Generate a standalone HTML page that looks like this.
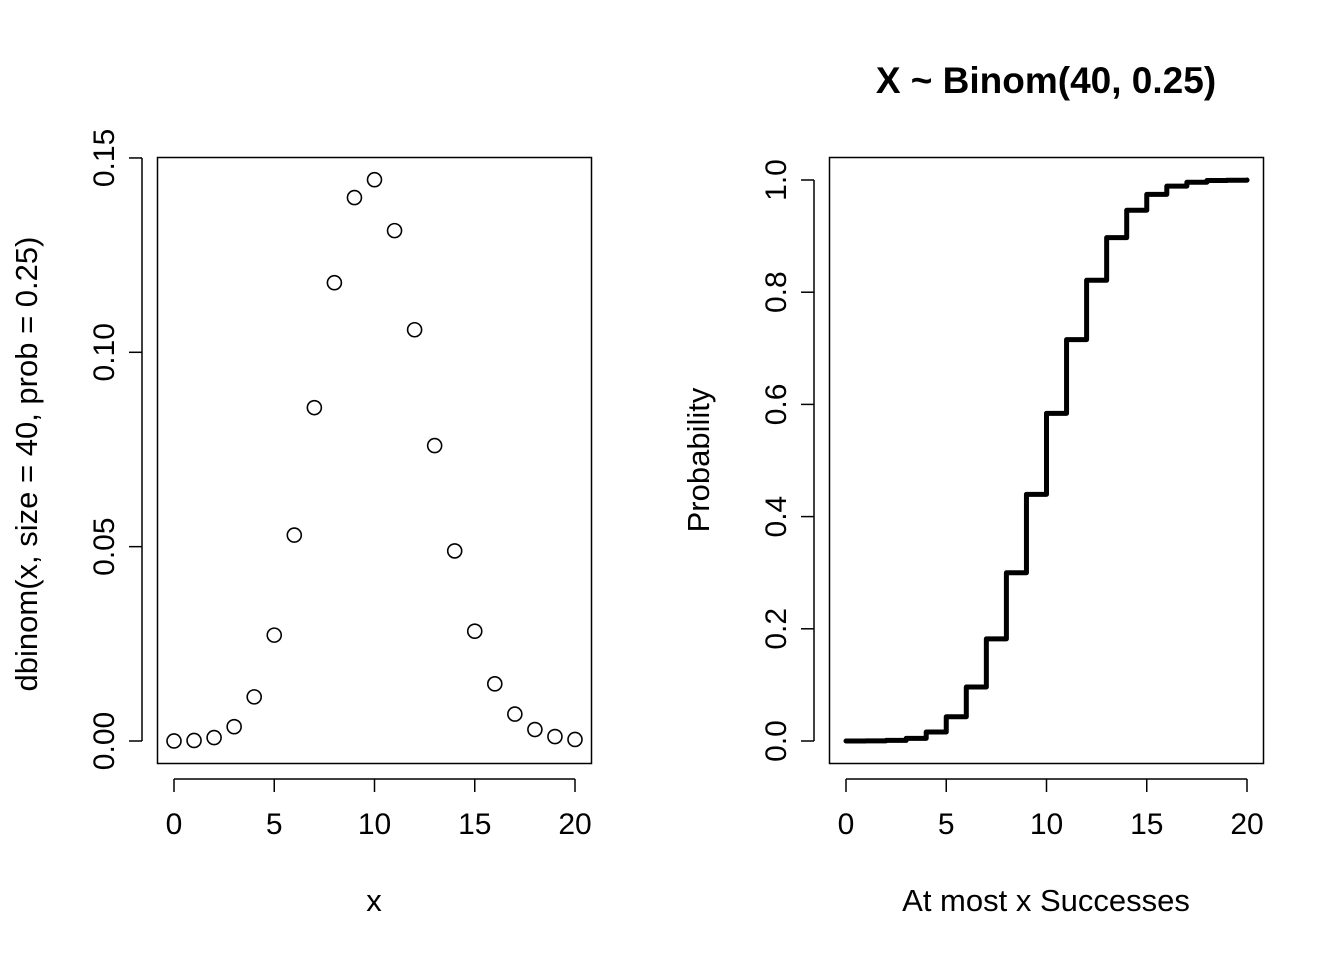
<!DOCTYPE html>
<html><head><meta charset="utf-8"><style>
html,body{margin:0;padding:0;background:#fff;}
svg{display:block;font-family:"Liberation Sans",Arial,sans-serif;}
</style></head><body>
<svg id="s" width="1344" height="960" viewBox="0 0 1344 960">
<rect width="1344" height="960" fill="#fff"/>
<text x="1046" y="93" font-size="37" font-weight="bold" text-anchor="middle">X ~ Binom(40, 0.25)</text>
<rect x="157.5" y="157.5" width="434" height="606" fill="none" stroke="#000" stroke-width="1.5"/>
<rect x="829.5" y="157.5" width="434" height="606" fill="none" stroke="#000" stroke-width="1.5"/>
<text x="374" y="911" font-size="31" text-anchor="middle">x</text>
<text x="1046" y="911" font-size="31" text-anchor="middle">At most x Successes</text>
<text transform="translate(37,464) rotate(-90)" font-size="31" text-anchor="middle">dbinom(x, size = 40, prob = 0.25)</text>
<text transform="translate(709,460) rotate(-90)" font-size="31" text-anchor="middle">Probability</text>
<g id="g"></g>
</svg>
<script>
const xs=[0,1,2,3,4,5,6,7,8,9,10,11,12,13,14,15,16,17,18,19,20];
const pmf=[0.00001,0.000134,0.000872,0.00368,0.01135,0.02724,0.05297,0.08576,0.1179,0.1398,0.1444,0.1313,0.1058,0.0760,0.0489,0.02825,0.01471,0.00692,0.00295,0.00114,0.000398];
const cdf=[0.00001,0.000144,0.00102,0.0047,0.01604,0.04329,0.09625,0.182,0.2999,0.4397,0.5841,0.7154,0.8212,0.8972,0.9461,0.9744,0.9891,0.996,0.999,0.9996,0.9999];
const xTicks=[0,5,10,15,20];
const lyTicks=["0.00","0.05","0.10","0.15"];
const ryTicks=["0.0","0.2","0.4","0.6","0.8","1.0"];
const NS="http://www.w3.org/2000/svg",g=document.getElementById('g');
function mk(t,a,txt){const e=document.createElementNS(NS,t);for(const k in a)e.setAttribute(k,a[k]);if(txt!==undefined)e.textContent=txt;g.appendChild(e);return e;}
const lx=v=>174+v*20.05, rx=v=>846+v*20.05;
const ly=v=>741-v*3887, ry=v=>741-v*561;
[[lx,'left'],[rx,'right']].forEach(([f,side])=>{
  const a=mk('line',{x1:f(0),x2:f(20),y1:779,y2:779,stroke:'#000','stroke-width':1.5});
  
  
  xTicks.forEach(t=>{
    const l=mk('line',{x1:f(t),x2:f(t),y1:779,y2:792,stroke:'#000','stroke-width':1.5});
    
    
    const tx=mk('text',{x:f(t),y:834,'font-size':30,'text-anchor':'middle'},String(t));
    
    
  });
});
function yaxis(f,labels,step,x0,side){
  const vals=labels.map((s,i)=>i*step);
  const a=mk('line',{x1:x0,x2:x0,y1:f(vals[0]),y2:f(vals[vals.length-1]),stroke:'#000','stroke-width':1.5});
  
  
  vals.forEach((v,i)=>{
    const l=mk('line',{x1:x0-13,x2:x0,y1:f(v),y2:f(v),stroke:'#000','stroke-width':1.5});
    
    
    const tx=mk('text',{transform:`translate(${x0-28},${f(v)}) rotate(-90)`,'font-size':30,'text-anchor':'middle'},labels[i]);
    
    
  });
}
yaxis(ly,lyTicks,0.05,142,'left');
yaxis(ry,ryTicks,0.2,814,'right');
xs.forEach((x,i)=>{
  const c=mk('circle',{cx:lx(x),cy:ly(pmf[i]),r:7,fill:'none',stroke:'#000','stroke-width':1.6});
  
  
});
let d='M'+rx(xs[0])+' '+ry(cdf[0]);
for(let i=1;i<xs.length;i++){d+=' H'+rx(xs[i])+' V'+ry(cdf[i]);}
const p=mk('path',{d:d,fill:'none',stroke:'#000','stroke-width':5,'stroke-linecap':'round','stroke-linejoin':'round'});


</script>
</body></html>
